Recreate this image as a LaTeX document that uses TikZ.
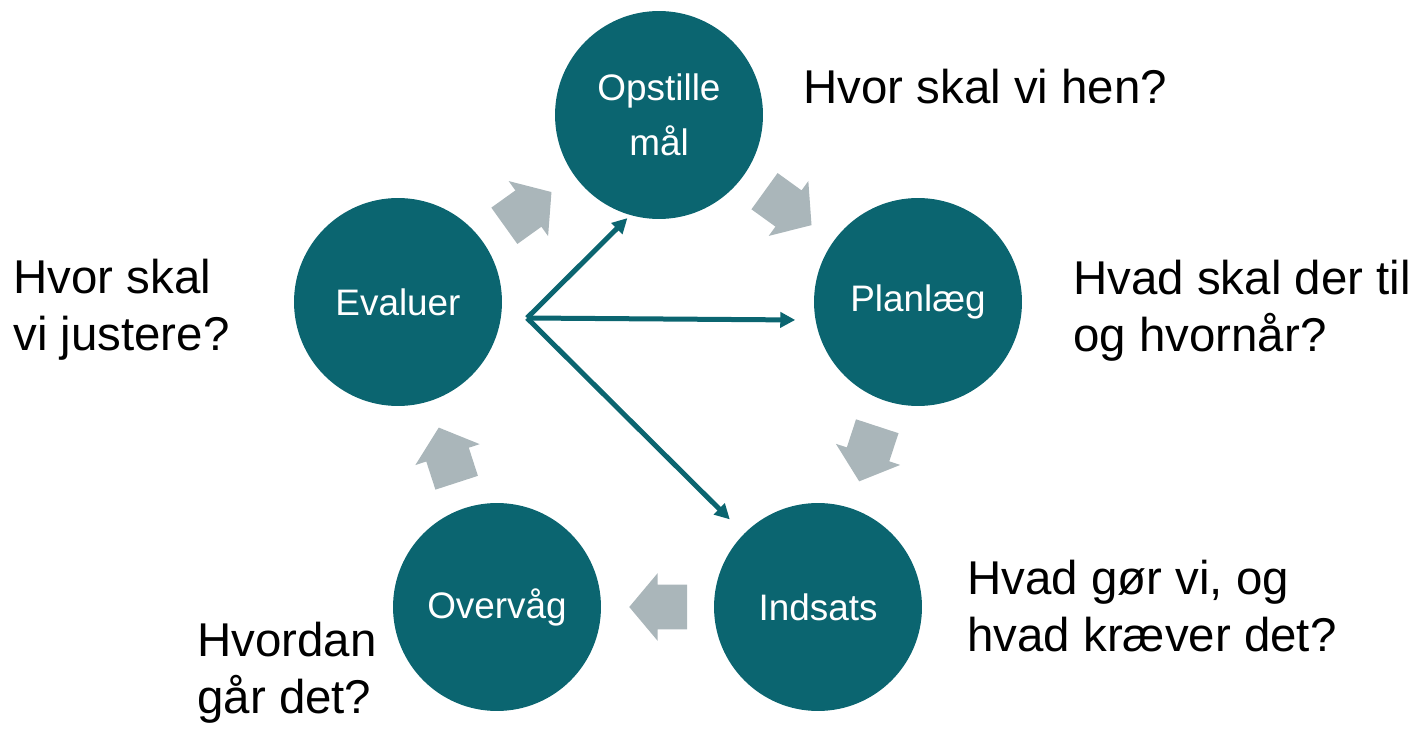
\documentclass[tikz,border=0pt]{standalone}
\usepackage{fontspec}
\setmainfont{Liberation Sans}
\usepackage{tikz}
\usetikzlibrary{
  arrows.meta,
  positioning,
  shapes.arrows
}
\definecolor{cycleteal}{RGB}{11,101,112}
\definecolor{arrowgray}{RGB}{170,182,186}

\begin{document}
\begin{tikzpicture}[
  x=0.02cm, y=-0.02cm,
  phase/.style={circle, fill=cycleteal, minimum size=4.16cm, inner sep=0pt,
               text=white, align=center, font=\fontsize{21}{31}\selectfont},
  question/.style={anchor=west, align=left, inner sep=0pt,
               font=\fontsize{27}{32.4}\selectfont},
  cyclearrow/.style={single arrow, fill=arrowgray, draw=none,
               inner xsep=0pt, inner ysep=0.44cm, minimum height=1.16cm,
               single arrow head extend=0.23cm, single arrow tip angle=100,
               sloped, allow upside down, pos=0.41},
  link/.style={-{Triangle[length=0.3cm,width=0.3cm]}, line width=0.1cm, cycleteal}
]
  \useasboundingbox (0,0) rectangle (1415,729);

  \node[phase] (opst) at (659,115) {Opstille\\mål};
  \node[phase] (plan) at (918,302) {Planlæg};
  \node[phase] (ind) at (818,607) {Indsats};
  \node[phase] (overv) at (497,607) {Overvåg};
  \node[phase] (eval) at (398,302) {Evaluer};

  % block arrows of the cycle
  \foreach \from/\to in {eval/opst, opst/plan, plan/ind, ind/overv, overv/eval}
    \path (\from) -- node[cyclearrow] (arr-\from) {} (\to);

  % evaluation feeds back
  \coordinate (hub) at (527,318);
  \draw[link, shorten >=0.08cm] (hub) -- (opst.254);
  \draw[link, shorten >=0.4cm] (hub) -- (plan.190);
  \draw[link, shorten >=0.4cm] (hub) -- (ind);

  \node[question] (q-opst) at (803,87) {Hvor skal vi hen?};
  \node[question] (q-plan) at (1073,311) {Hvad skal der til\\og hvornår?};
  \node[question] (q-ind) at (967,606) {Hvad gør vi, og\\hvad kræver det?};
  \node[question] (q-overv) at (197,673) {Hvordan\\går det?};
  \node[question] (q-eval) at (13,310) {Hvor skal\\vi justere?};
\end{tikzpicture}
\end{document}
